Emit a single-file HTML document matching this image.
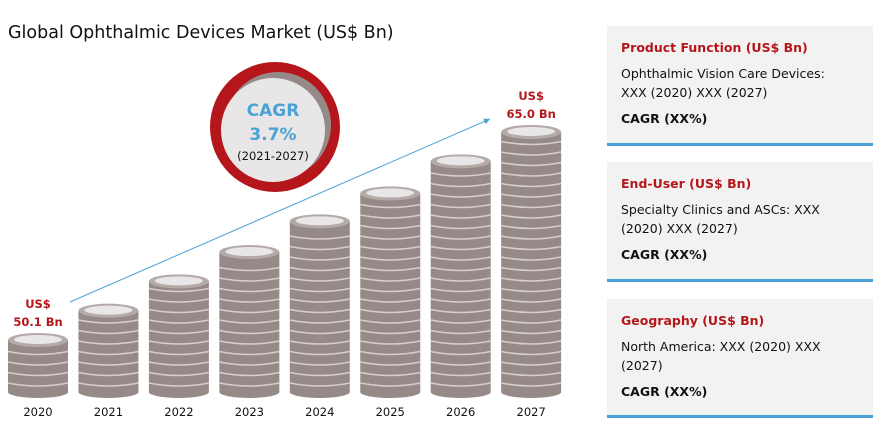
<!DOCTYPE html>
<html><head><meta charset="utf-8"><style>
body{margin:0;width:877px;height:432px;background:#fff;position:relative;overflow:hidden;font-family:"DejaVu Sans","Liberation Sans",sans-serif}
.panel{position:absolute;left:607px;width:266px;background:#f2f2f2;border-bottom:3px solid #4aa3d6;box-sizing:border-box;padding:14px 36px 0 14px;font-size:12.5px;color:#111}
.panel h3{margin:0 0 9px;font-size:12.5px;color:#b5161b;font-weight:bold}
.panel p{margin:0 0 9px;line-height:19px}
.panel b{display:block}
</style></head><body>
<div style="position:absolute;left:8px;top:23px;font-size:17.5px;color:#111">Global Ophthalmic Devices Market (US$ Bn)</div>
<svg id="chart" width="600" height="432" style="position:absolute;left:0;top:0"></svg>
<div class="panel" style="top:26px;height:120px"><h3>Product Function (US$ Bn)</h3><p>Ophthalmic Vision Care Devices: XXX (2020) XXX (2027)</p><b>CAGR (XX%)</b></div>
<div class="panel" style="top:162px;height:120px"><h3>End-User (US$ Bn)</h3><p>Specialty Clinics and ASCs: XXX (2020) XXX (2027)</p><b>CAGR (XX%)</b></div>
<div class="panel" style="top:299px;height:119px"><h3>Geography (US$ Bn)</h3><p>North America: XXX (2020) XXX (2027)</p><b>CAGR (XX%)</b></div>
<script>
const years=["2020","2021","2022","2023","2024","2025","2026","2027"];
const values=[50.1,52.2,54.3,56.4,58.6,60.6,62.9,65.0];
const labelFirst=["US$","50.1 Bn"];
const labelLast=["US$","65.0 Bn"];
const svg=document.getElementById('chart');
const NS='http://www.w3.org/2000/svg';
function mk(t,a,p){const e=document.createElementNS(NS,t);for(const k in a)e.setAttribute(k,a[k]);(p||svg).appendChild(e);return e;}
const x=i=>38+i*70.45;
const base=398;
const h=v=>58+(v-50.1)*208/14.9;
mk('defs',{}).innerHTML='<marker id="ah" markerWidth="8" markerHeight="8" refX="6" refY="3" orient="auto"><path d="M0,0L6,3L0,6" fill="#4aa3d6"/></marker>';
const ar=mk('line',{x1:70,y1:302,x2:490,y2:119,stroke:'#4aa3d6','stroke-width':1,'marker-end':'url(#ah)'});

const g0=mk('g',{});
mk('circle',{cx:275,cy:127,r:65,fill:'#b5161b'},g0);
mk('circle',{cx:278,cy:125,r:53,fill:'#968a88'},g0);
mk('circle',{cx:273,cy:130,r:52,fill:'#e8e6e7'},g0);
[["CAGR",116,17,'#4aa3d6','bold'],["3.7%",140,17,'#4aa3d6','bold'],["(2021-2027)",160,11.5,'#111','normal']].forEach(t=>{const e=mk('text',{x:273,y:t[1],'text-anchor':'middle','font-size':t[2],fill:t[3],'font-weight':t[4]},g0);e.textContent=t[0];});
values.forEach((v,i)=>{
  const cx=x(i),hh=h(v),top=base-hh,w=30;
  const g=mk('g',{});
  
  
  mk('rect',{x:cx-w,y:top,width:2*w,height:hh-6,fill:'#968a88'},g);
  mk('ellipse',{cx:cx,cy:base-6,rx:w,ry:6,fill:'#968a88'},g);
  for(let y=base-12;y>top+10;y-=10.5){mk('path',{d:`M${cx-w},${y-3} Q${cx},${y+3} ${cx+w},${y-3}`,stroke:'#d6cecc','stroke-width':1.6,fill:'none'},g);}
  mk('ellipse',{cx:cx,cy:top,rx:w,ry:7,fill:'#b4aaa8'},g);
  mk('ellipse',{cx:cx,cy:top-0.5,rx:w-6,ry:4.5,fill:'#e8e6e7'},g);
  const t=mk('text',{x:cx,y:416,'text-anchor':'middle','font-size':11.5,fill:'#111'});
  
  t.textContent=years[i];
});
function vlab(arr,cx,y1,nm){arr.forEach((s,k)=>{const t=mk('text',{x:cx,y:y1+k*18,'text-anchor':'middle','font-size':11.5,'font-weight':'bold',fill:'#b5161b'});t.textContent=s;});}
vlab(labelFirst,38,308,'value-label-2020');
vlab(labelLast,x(7),100,'value-label-2027');
</script>
</body></html>
